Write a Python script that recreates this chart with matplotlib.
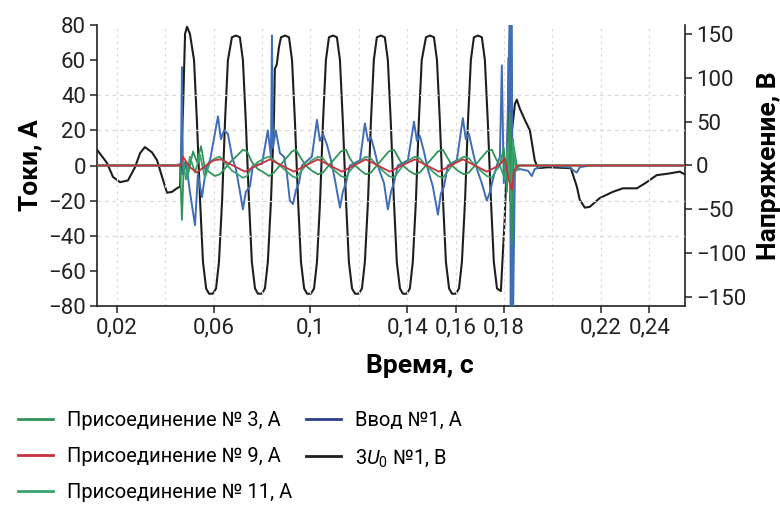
import matplotlib
matplotlib.use("Agg")
import matplotlib.pyplot as plt
from matplotlib.lines import Line2D

plt.rcParams['font.family'] = ['Roboto', 'DejaVu Sans']
plt.rcParams['mathtext.fontset'] = 'custom'
plt.rcParams['mathtext.rm'] = 'Roboto'
plt.rcParams['mathtext.it'] = 'Roboto:italic'

LEG_FAMILY = ['Roboto', 'DejaVu Sans']
LEG_SIZE = 14.5

# ---------------- data (time in ms) ----------------
t_u0 = [11.8, 15.9, 18.4, 21.3, 24.6, 27.5, 29.6, 31.6, 34.5, 36.6, 38.7, 40.7, 42.8, 44.8, 46.1, 47.3, 48.2, 49.0,
        50.2, 51.9, 53.1, 54.4, 55.6, 56.9, 58.1, 59.7, 61.0, 62.2, 63.5, 64.7, 65.9,
        67.55, 69.2, 70.85, 72.1, 73.3, 74.6, 75.8, 77.1, 78.3, 79.9, 81.2, 82.4, 83.7, 84.9, 85.3, 86.1, 87.0,
        87.85, 89.5, 91.15, 92.4, 93.6, 94.9, 96.1, 97.4, 98.6, 100.2, 101.5, 102.7, 104.0, 105.2, 106.4,
        107.65, 109.3, 110.95, 112.2, 113.4, 114.7, 115.9, 117.2, 118.4, 120.0, 121.3, 122.5, 123.8, 125.0, 126.2,
        127.45, 129.1, 130.75, 132.0, 133.2, 134.5, 135.7, 137.0, 138.2, 139.8, 141.1, 142.3, 143.6, 144.8, 146.0,
        147.75, 149.4, 151.05, 152.3, 153.5, 154.8, 156.0, 157.3, 158.5, 160.1, 161.4, 162.6, 163.9, 165.1, 166.3,
        167.55, 169.2, 170.85, 172.1, 173.3, 174.6, 175.8, 177.1, 178.7, 180.3, 181.6, 182.0, 182.6, 183.3, 184.5,
        185.3, 186.5, 188.6, 190.7, 192.7, 194.0, 198.1, 207.6, 210.1, 211.3, 213.4, 215.5, 219.6, 225.0, 229.1,
        234.9, 239.0, 243.1, 248.5, 252.6, 254.7]
v_u0 = [18, 3, -13, -19, -17, -2, 14, 21, 15, 6, -13, -31, -30, -26, -24, 60, 150, 158,
        150, 120, 50, -40, -110, -140, -146, -146, -140, -110, -40, 50, 120,
        146, 148, 146, 120, 50, -40, -110, -140, -146, -146, -140, -110, -40, 50, 110, 115, 135,
        146, 148, 146, 120, 50, -40, -110, -140, -146, -146, -140, -110, -40, 50, 120,
        146, 148, 146, 120, 50, -40, -110, -140, -146, -146, -140, -110, -40, 50, 120,
        146, 148, 146, 120, 50, -40, -110, -140, -146, -146, -140, -110, -40, 50, 120,
        146, 148, 146, 120, 50, -40, -110, -140, -146, -146, -140, -110, -40, 50, 120,
        146, 148, 146, 120, 50, -40, -110, -140, -143, -60, 40, 123, -40, 40, 70,
        75, 65, 52, 40, 6, -3, -2, -3, -24, -39, -48, -47, -37, -30, -26,
        -26, -19, -11, -9, -7, -10]

t_in1 = [11.8, 44.0, 46.5, 46.9, 47.3, 48.6, 50.2, 52.3, 53.5, 55.2, 56.8, 58.5, 60.1, 61.8, 63.0, 64.3, 65.9,
         67.6, 69.2, 70.9, 72.1, 73.3, 75.0, 76.2, 80.0, 82.4, 83.7, 84.1, 84.5, 85.7, 87.4, 89.1, 90.3, 91.5,
         92.8, 94.0, 95.3, 96.5, 100.6, 102.7, 103.9, 105.2, 106.8, 108.5, 110.1, 112.2, 113.4, 114.7, 116.3,
         120.5, 122.5, 123.8, 125.0, 126.6, 128.3, 130.4, 132.0, 133.3, 134.5, 136.1, 140.3, 142.8, 144.0,
         145.2, 146.9, 148.5, 150.6, 152.7, 153.9, 155.2, 156.8, 160.5, 163.0, 164.2, 165.5, 167.1, 168.8,
         170.8, 172.9, 174.2, 175.4, 177.0, 178.3, 179.1, 179.9, 181.2, 182.4, 182.8, 183.2, 183.7, 184.5,
         186.5, 189.9, 191.5, 192.7, 196.9, 207.2, 208.9, 210.1, 211.3, 215.5, 254.7]
i_in1 = [0, 0, 1, 56, -5, 2, -15, -34, -5, -18, -2, 3, 15, 28, 15, 20, 18,
         5, -2, -15, -25, -15, -12, 0, 1, 20, 5, 74, 10, 20, 7, 5, -5, -20,
         -22, -14, -10, 0, 5, 26, 14, 18, 12, 3, -8, -24, -15, -10, 0,
         3, 24, 14, 16, 8, -2, -10, -25, -15, -10, 0, 3, 25, 14,
         17, 8, -2, -12, -28, -16, -12, 0, 3, 27, 15, 18, 8, -2,
         -10, -20, -15, -8, 0, 5, 57, -10, 5, 90, -90, 90, -90, -3,
         -2, -3, -6, -2, 0, -1, -3, -4, -1, 0, 0]

t_p9 = [11.8, 46.5, 47.3, 50.2, 53.1, 56.8, 60.1, 63.0, 68.0, 72.9, 77.9, 83.3, 88.2, 93.2, 98.1, 103.1,
        108.1, 113.0, 118.0, 122.9, 127.9, 132.8, 137.8, 143.2, 148.1, 153.1, 158.0, 163.0, 168.0, 172.9,
        177.9, 180.4, 182.0, 183.2, 184.1, 185.7, 254.7]
i_p9 = [0, 0, 5, -1, -4, 0, 3, 3.5, 0, -3.5, 0, 3.5, 0, -3.5, 0, 3.5,
        0, -3.5, 0, 3.5, 0, -3.5, 0, 3.5, 0, -3.5, 0, 3.5, 0, -3.5,
        0, 4, -8, -14, -3, 0, 0]

t_p3 = [11.8, 46.1, 46.9, 47.7, 49.4, 51.5, 53.1, 54.8, 56.4, 58.5, 60.5, 62.6, 65.1, 67.6, 70.0, 72.1, 73.8,
        75.8, 78.3, 80.8, 82.9, 84.9, 87.4, 89.9, 92.4, 94.0, 95.7, 98.1, 100.6, 103.1, 105.2, 107.6, 110.1,
        112.6, 114.7, 116.3, 118.4, 120.9, 122.9, 125.0, 127.5, 129.9, 132.4, 134.5, 136.1, 138.2, 140.7,
        143.2, 145.2, 147.7, 150.2, 152.7, 154.7, 156.4, 158.5, 160.9, 163.4, 165.5, 168.0, 170.4, 172.9,
        175.0, 176.6, 178.3, 179.9, 181.2, 182.4, 183.2, 184.1, 185.3, 254.7]
i_p3 = [0, 0, -31, 2, -5, 8, 2, 11, -2, -4, -6, -5, -1, 3, 6, 9, 8,
        2, -2, -4, -6, -4, 0, 4, 8, 9, 5, 0, -3, -5, -4, 0, 4,
        8, 9, 4, 0, -3, -5, -4, 0, 4, 8, 9, 5, 0, -3,
        -5, -4, 0, 4, 8, 9, 5, 0, -3, -5, -4, 0, 4, 8,
        9, 4, 0, 10, -15, 30, -45, 10, 0, 0]

t_p11 = [11.8, 46.1, 47.3, 48.6, 50.2, 52.3, 54.4, 56.4, 58.5, 60.5, 62.6, 65.1, 67.6, 70.0, 72.1, 73.8,
         75.8, 78.3, 80.8, 82.9, 84.9, 87.4, 89.9, 92.4, 94.0, 95.7, 98.1, 100.6, 103.1, 105.2, 107.6, 110.1,
         112.6, 114.7, 116.3, 118.4, 120.9, 122.9, 125.0, 127.5, 129.9, 132.4, 134.5, 136.1, 138.2, 140.7,
         143.2, 145.2, 147.7, 150.2, 152.7, 154.7, 156.4, 158.5, 160.9, 163.4, 165.5, 168.0, 170.4, 172.9,
         175.0, 176.6, 178.3, 180.4, 181.6, 182.8, 183.7, 184.9, 186.5, 254.7]
i_p11 = [0, 0, 3, -8, 5, -4, 6, -7, 2, 4, 5, 1, -3, -5, -7, -6,
         -1, 2, 4, 5, 3, 0, -3, -6, -7, -4, 0, 3, 5, 4, 0, -3,
         -6, -7, -3, 0, 3, 5, 4, 0, -3, -6, -7, -4, 0, 3,
         5, 4, 0, -3, -6, -7, -4, 0, 3, 5, 4, 0, -3, -6,
         -7, -3, 0, -8, 12, -20, 15, -3, 0, 0]

xtick_vals = [0.02, 0.06, 0.10, 0.14, 0.16, 0.18, 0.22, 0.24]
xtick_labels = ["0,02", "0,06", "0,1", "0,14", "0,16", "0,18", "0,22", "0,24"]
ytick_left = [-80, -60, -40, -20, 0, 20, 40, 60, 80]
ytick_right = [-150, -100, -50, 0, 50, 100, 150]
grid_y = [-40, -20, 20, 40]
grid_x = [0.02, 0.04, 0.06, 0.08, 0.10, 0.12, 0.14, 0.16, 0.18, 0.20, 0.22, 0.24]

labels = ["Присоединение № 3, А", "Присоединение № 9, А", "Присоединение № 11, А",
          "Ввод №1, А", "3$U_0$ №1, В"]

# ---------------- plot ----------------
c_g3 = "#2f9458"
c_g11 = "#3aa36d"
c_red = "#c8323c"
c_blue = "#3f6db8"
c_blue_leg = "#2c3f8c"
c_black = "#1e1e1e"

fig = plt.figure(figsize=(7.8, 5.05), dpi=100)
ax = fig.add_axes([97/780, 1-306/505, 588/780, 281/505])
ax2 = ax.twinx()

ms = lambda arr: [v/1000.0 for v in arr]

for gx in grid_x:
    ax.axvline(gx, color="#d9d9d9", lw=0.9, ls=(0, (2, 3)), zorder=0)
for gy in grid_y:
    ax.axhline(gy, color="#d9d9d9", lw=0.9, ls=(0, (3, 3)), zorder=0)

ax2.plot(ms(t_u0), v_u0, color=c_black, lw=1.5, zorder=2)
ax.plot(ms(t_in1), i_in1, color=c_blue, lw=1.4, zorder=3)
ax.plot(ms(t_p3), i_p3, color=c_g3, lw=1.3, zorder=4)
ax.plot(ms(t_p11), i_p11, color=c_g11, lw=1.3, zorder=4)
ax.plot(ms(t_p9), i_p9, color=c_red, lw=1.3, zorder=5)

ax.set_zorder(ax2.get_zorder() + 1)
ax.patch.set_visible(False)

ax.set_xlim(0.0118, 0.2548)
ax.set_ylim(-80, 80)
ax2.set_ylim(-160, 160)

ax.set_xticks(xtick_vals)
ax.set_xticklabels(xtick_labels)
ax.set_yticks(ytick_left)
ax2.set_yticks(ytick_right)

for a in (ax, ax2):
    a.spines['top'].set_visible(False)
    for s in a.spines.values():
        s.set_linewidth(1.2)
        s.set_color("#222222")
ax.spines['right'].set_visible(False)
ax2.spines['left'].set_visible(False)
ax2.spines['bottom'].set_visible(False)

ax.tick_params(axis='both', labelsize=16, length=5, width=1.1, direction='out', colors="#222222", pad=3)
ax2.tick_params(axis='y', labelsize=16, length=5, width=1.1, direction='out', colors="#222222", pad=3)

ax.set_ylabel("Токи, А", fontsize=19, fontweight='bold', labelpad=4)
ax2.set_ylabel("Напряжение, В", fontsize=19, fontweight='bold', labelpad=8)
ax.set_xlabel("Время, с", fontsize=19, fontweight='bold')
ax.xaxis.set_label_coords(0.549, -0.17)

handles = [Line2D([], [], color=c_g3, lw=2),
           Line2D([], [], color=c_red, lw=2),
           Line2D([], [], color=c_g11, lw=2),
           Line2D([], [], color=c_blue_leg, lw=2),
           Line2D([], [], color=c_black, lw=2)]
fsz = LEG_SIZE * 100 / 72.0
fig.legend(handles, labels, ncol=2, loc='upper left', bbox_to_anchor=(18/780, 1-411/505),
           frameon=False, prop={'family': LEG_FAMILY, 'size': LEG_SIZE}, borderpad=0, borderaxespad=0,
           handlelength=35/fsz, handletextpad=14/fsz, labelspacing=0.85, columnspacing=0.7)

fig.savefig("out.png", dpi=100)
